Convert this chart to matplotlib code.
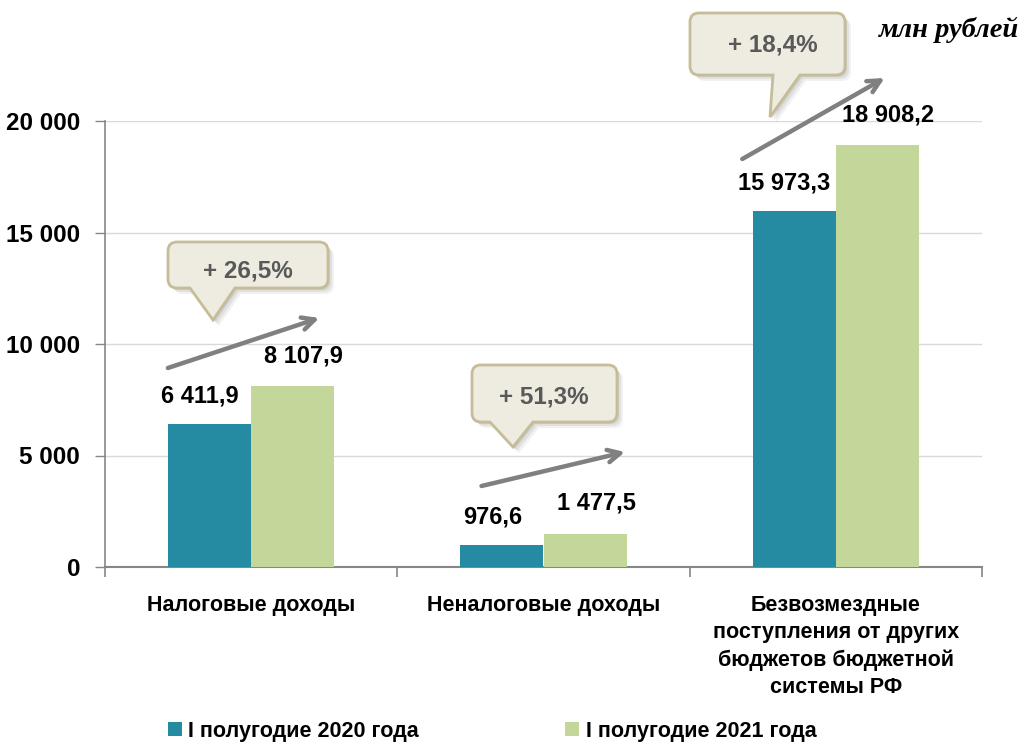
import matplotlib
matplotlib.use("Agg")
import matplotlib.pyplot as plt
import numpy as np
from matplotlib.path import Path
from matplotlib.patches import PathPatch
from matplotlib.font_manager import fontManager

categories = ["Налоговые доходы", "Неналоговые доходы",
              "Безвозмездные\nпоступления от других\nбюджетов бюджетной\nсистемы РФ"]
series_names = ["I полугодие 2020 года", "I полугодие 2021 года"]
values_2020 = [6411.9, 976.6, 15973.3]
values_2021 = [8107.9, 1477.5, 18908.2]
labels_2020 = ["6 411,9", "976,6", "15 973,3"]
labels_2021 = ["8 107,9", "1 477,5", "18 908,2"]
growth = ["+ 26,5%", "+ 51,3%", "+ 18,4%"]
yticks = [0, 5000, 10000, 15000, 20000]
ytick_labels = ["0", "5 000", "10 000", "15 000", "20 000"]

names = {f.name for f in fontManager.ttflist}
NARROW = "Liberation Sans Narrow" if "Liberation Sans Narrow" in names else "Liberation Sans"
SANS = "Liberation Sans"

C20 = "#248BA3"
C21 = "#C4D79B"

W, H = 1029, 745
fig = plt.figure(figsize=(W / 100, H / 100), dpi=100)
ax = fig.add_axes([105 / W, 1 - 567 / H, 877 / W, 446 / H])

x = np.arange(len(categories))
bw = 0.284
ax.bar(x - bw / 2, values_2020, bw, color=C20, label=series_names[0], zorder=3)
ax.bar(x + bw / 2, values_2021, bw, color=C21, label=series_names[1], zorder=3)

ax.set_xlim(-0.5, 2.5)
ax.set_ylim(0, 20000)
ax.set_yticks(yticks)
ax.set_yticklabels(ytick_labels, fontfamily=SANS, fontweight="bold", fontsize=17.5)
ax.tick_params(axis="y", direction="out", length=7, width=1, color="#868686", pad=11)
ax.set_xticks([-0.5, 0.5, 1.5, 2.5])
ax.set_xticklabels([])
ax.tick_params(axis="x", direction="out", length=7, width=1.2, color="#868686")
ax.yaxis.grid(True, color="#D9D9D9", lw=1, zorder=0)
for s in ["top", "right"]:
    ax.spines[s].set_visible(False)
ax.spines["left"].set_color("#868686")
ax.spines["bottom"].set_color("#868686")
ax.spines["left"].set_linewidth(1.2)
ax.spines["bottom"].set_linewidth(1.5)

# category labels
for i, c in enumerate(categories):
    ax.annotate(c, xy=(i, 0), xytext=(0, -20), textcoords="offset points",
                ha="center", va="top", fontfamily=SANS, fontweight="bold",
                fontsize=15.5, linespacing=1.38, annotation_clip=False)

# value labels
for i in range(len(categories)):
    ax.annotate(labels_2020[i], xy=(x[i] - bw / 2, values_2020[i]), xytext=(-7, 20),
                textcoords="offset points", ha="center", va="center",
                fontfamily=NARROW, fontweight="bold", fontsize=17, annotation_clip=False)
    ax.annotate(labels_2021[i], xy=(x[i] + bw / 2, values_2021[i]), xytext=(8, 22),
                textcoords="offset points", ha="center", va="center",
                fontfamily=NARROW, fontweight="bold", fontsize=17, annotation_clip=False)

# growth arrows (data coordinates)
arrows = [((-0.285, 8924), (0.233, 11166)),
          ((0.788, 3632), (1.279, 5157)),
          ((1.68, 18296), (2.167, 21928))]
for (p0, p1) in arrows:
    ax.annotate("", xy=p1, xytext=p0, xycoords="data",
                arrowprops=dict(arrowstyle="->,head_length=0.9,head_width=0.45",
                                color="#808080", lw=3.2, shrinkA=0, shrinkB=0),
                annotation_clip=False, zorder=5)


def px(xp, yp):
    return (xp / W, 1 - yp / H)


def callout(x0, y0, x1, y1, bx0, bx1, tx, ty, r=9):
    pts = [(x0 + r, y0), (x1 - r, y0), (x1, y0), (x1, y0 + r), (x1, y1 - r), (x1, y1),
           (x1 - r, y1), (bx1, y1), (tx, ty), (bx0, y1), (x0 + r, y1), (x0, y1),
           (x0, y1 - r), (x0, y0 + r), (x0, y0), (x0 + r, y0), (x0 + r, y0)]
    codes = [Path.MOVETO, Path.LINETO, Path.CURVE3, Path.CURVE3, Path.LINETO, Path.CURVE3,
             Path.CURVE3, Path.LINETO, Path.LINETO, Path.LINETO, Path.LINETO, Path.CURVE3,
             Path.CURVE3, Path.LINETO, Path.CURVE3, Path.CURVE3, Path.CLOSEPOLY]
    return pts, codes


boxes = [(168, 242, 328, 288, 190, 235, 213, 320, 248, 271),
         (472, 365, 617, 422, 490, 533, 513, 447, 544, 397),
         (690, 13, 845, 75, 773, 800, 770, 117, 773, 45)]
for (x0, y0, x1, y1, bx0, bx1, tx, ty, txx, txy), g in zip(boxes, growth):
    for k, (dx, dy, a) in enumerate([(6, 6, 0.10), (4, 4, 0.15), (2, 2, 0.2)]):
        pts, codes = callout(x0 + dx, y0 + dy, x1 + dx, y1 + dy, bx0 + dx, bx1 + dx, tx + dx, ty + dy)
        sh = PathPatch(Path([px(*p) for p in pts], codes), transform=fig.transFigure,
                       facecolor="#7F7F7F", edgecolor="none", alpha=a, zorder=6)
        fig.add_artist(sh)
    pts, codes = callout(x0, y0, x1, y1, bx0, bx1, tx, ty)
    patch = PathPatch(Path([px(*p) for p in pts], codes), transform=fig.transFigure,
                      facecolor="#EEECE1", edgecolor="#C4BD97", lw=2, zorder=7)
    fig.add_artist(patch)
    fig.text(*px(txx, txy), g, ha="center", va="center", fontfamily=SANS,
             fontweight="bold", fontsize=17.5, color="#595959", zorder=8)

fig.text(*px(1019, 30), "млн рублей", ha="right", va="center",
         fontfamily="Liberation Serif", fontweight="bold", fontstyle="italic", fontsize=20.5)

fig.legend(loc="center", bbox_to_anchor=px(492, 731), ncol=2, frameon=False,
           prop=dict(family=SANS, weight="bold", size=15.5),
           handlelength=0.65, handleheight=0.65, handletextpad=0.3, columnspacing=6.8)

fig.savefig("out.png", dpi=100)
